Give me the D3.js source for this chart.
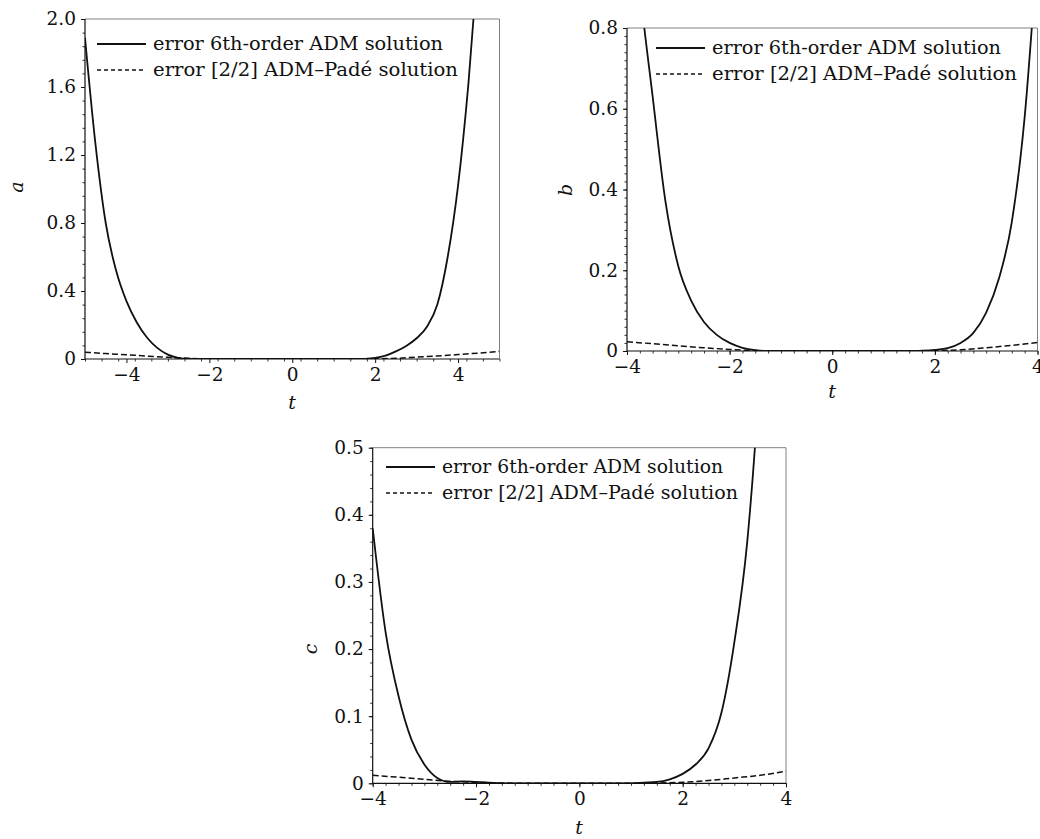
<!DOCTYPE html>
<html>
<head>
<meta charset="utf-8">
<script src="https://cdn.jsdelivr.net/npm/d3@7"></script>
<style>
  body { margin: 0; background: #fff; }
  svg text { font-family: "DejaVu Serif", "Liberation Serif", serif; fill: #111; }
</style>
</head>
<body>
<svg id="fig" width="1040" height="839"></svg>
<script>
// panel a : error of a(t)
var tA_adm = [-5, -4.75, -4.5, -4.25, -4, -3.75, -3.5, -3.25, -3, -2.75, -2.5, -2, -1, 0, 1, 1.5, 1.75, 2, 2.25, 2.5, 2.75, 3, 3.25, 3.5, 3.75, 4, 4.25, 4.5];
var errA_adm = [1.89, 1.27, 0.80, 0.52, 0.34, 0.215, 0.125, 0.064, 0.026, 0.007, 0.001, 0, 0, 0, 0, 0, 0.001, 0.006, 0.02, 0.045, 0.077, 0.122, 0.19, 0.32, 0.60, 1.02, 1.62, 2.4];
var tA_pade = [-5, -4.5, -4, -3.5, -3, -2.5, -2, -1, 0, 1, 2, 2.5, 3, 3.5, 4, 4.5, 5];
var errA_pade = [0.04, 0.032, 0.025, 0.017, 0.01, 0.004, 0.001, 0, 0, 0, 0.001, 0.004, 0.011, 0.018, 0.026, 0.035, 0.045];
var yTicksA = [0, 0.4, 0.8, 1.2, 1.6, 2.0];

// panel b : error of b(t)
var tB_adm = [-4, -3.75, -3.5, -3.25, -3, -2.75, -2.5, -2.25, -2, -1.75, -1.5, -1.25, 0, 1.25, 1.5, 1.75, 2, 2.25, 2.5, 2.75, 3, 3.25, 3.5, 3.75, 4];
var errB_adm = [1.25, 0.90, 0.63, 0.37, 0.21, 0.125, 0.072, 0.04, 0.02, 0.008, 0.002, 0, 0, 0, 0, 0.001, 0.003, 0.007, 0.02, 0.045, 0.095, 0.18, 0.32, 0.58, 1.0];
var tB_pade = [-4, -3.5, -3, -2.5, -2, -1.5, -1, 0, 1, 1.5, 2, 2.5, 3, 3.5, 4];
var errB_pade = [0.023, 0.018, 0.013, 0.008, 0.004, 0.001, 0, 0, 0, 0, 0.001, 0.003, 0.008, 0.014, 0.021];
var yTicksB = [0, 0.2, 0.4, 0.6, 0.8];

// panel c : error of c(t)
var tC_adm = [-4, -3.75, -3.5, -3.25, -3, -2.75, -2.5, -2.25, -2, -1.75, -1.5, 0, 1, 1.25, 1.5, 1.75, 2, 2.25, 2.5, 2.75, 3, 3.25, 3.5, 3.75];
var errC_adm = [0.38, 0.225, 0.13, 0.065, 0.028, 0.008, 0.002, 0.003, 0.002, 0.001, 0, 0, 0, 0.001, 0.002, 0.006, 0.014, 0.028, 0.052, 0.105, 0.21, 0.36, 0.62, 1.0];
var tC_pade = [-4, -3.5, -3, -2.5, -2, -1.5, -1, 0, 1, 1.5, 2, 2.5, 3, 3.5, 4];
var errC_pade = [0.012, 0.009, 0.006, 0.003, 0.0015, 0.0005, 0, 0, 0, 0.0005, 0.0015, 0.004, 0.008, 0.012, 0.018];
var yTicksC = [0, 0.1, 0.2, 0.3, 0.4, 0.5];

var xTicks = [-4, -2, 0, 2, 4];
var legendLabels = ["error 6th-order ADM solution", "error [2/2] ADM\u2013Pad\u00e9 solution"];

var svg = d3.select('#fig');

function fmtY(d) { return d === 0 ? "0" : d.toFixed(1); }
function fmtX(d) { return d < 0 ? "\u2212" + Math.abs(d) : String(d); }

function styleTicks(s) {
    s.select('.domain').remove();
    s.selectAll('line').attr('stroke', '#111');
    s.selectAll('text')
        .attr('font-size', 18.5)
        .attr('font-family', '"DejaVu Serif", serif')
        .attr('fill', '#111');
}

function drawPanel(p) {
    var x = d3.scaleLinear().domain(p.xDomain).range([p.left, p.right]);
    var y = d3.scaleLinear().domain(p.yDomain).range([p.bottom, p.top]);

    svg.append('clipPath').attr('id', 'clip-' + p.name)
        .append('rect')
        .attr('x', p.left).attr('y', p.top)
        .attr('width', p.right - p.left).attr('height', p.bottom - p.top);

    var g = svg.append('g');

    // minor ticks
    var xMinor = d3.range(p.xDomain[0], p.xDomain[1] + 1e-9, p.xMinor);
    g.append('g').attr('transform', 'translate(0,' + p.bottom + ')')
        .call(d3.axisBottom(x).tickValues(xMinor).tickSize(2.5).tickFormat(''))
        .call(function(s) { s.select('.domain').remove(); s.selectAll('line').attr('stroke', '#333'); });
    var yMinor = d3.range(p.yDomain[0], p.yDomain[1] + 1e-9, p.yMinor);
    g.append('g').attr('transform', 'translate(' + p.left + ',0)')
        .call(d3.axisLeft(y).tickValues(yMinor).tickSize(2.5).tickFormat(''))
        .call(function(s) { s.select('.domain').remove(); s.selectAll('line').attr('stroke', '#333'); });

    // major ticks
    g.append('g').attr('transform', 'translate(0,' + p.bottom + ')')
        .call(d3.axisBottom(x).tickValues(p.xTicks).tickSize(4).tickPadding(5).tickFormat(fmtX))
        .call(styleTicks);
    g.append('g').attr('transform', 'translate(' + p.left + ',0)')
        .call(d3.axisLeft(y).tickValues(p.yTicks).tickSize(4).tickPadding(5).tickFormat(fmtY))
        .call(styleTicks);

    // frame: grey top/right, dark axes
    g.append('path')
        .attr('d', 'M' + p.left + ',' + p.top + 'H' + p.right + 'V' + p.bottom)
        .attr('fill', 'none').attr('stroke', '#808080').attr('stroke-width', 1);
    g.append('path')
        .attr('d', 'M' + p.left + ',' + p.top + 'V' + p.bottom + 'H' + p.right)
        .attr('fill', 'none').attr('stroke', '#111').attr('stroke-width', 1.2);

    // curves
    var line = d3.line()
        .x(function(d) { return x(d[0]); })
        .y(function(d) { return y(d[1]); })
        .curve(d3.curveMonotoneX);
    var cg = g.append('g').attr('clip-path', 'url(#clip-' + p.name + ')');
    cg.append('path')
        .attr('d', line(d3.zip(p.tPade, p.errPade)))
        .attr('fill', 'none').attr('stroke', '#111').attr('stroke-width', 1.5)
        .attr('stroke-dasharray', '6,3');
    cg.append('path')
        .attr('d', line(d3.zip(p.tAdm, p.errAdm)))
        .attr('fill', 'none').attr('stroke', '#111').attr('stroke-width', 1.8);

    // legend
    var lg = g.append('g');
    lg.append('line').attr('x1', p.legX).attr('x2', p.legX + 49)
        .attr('y1', p.legY).attr('y2', p.legY)
        .attr('stroke', '#111').attr('stroke-width', 2);
    lg.append('line').attr('x1', p.legX).attr('x2', p.legX + 49)
        .attr('y1', p.legY + 26).attr('y2', p.legY + 26)
        .attr('stroke', '#111').attr('stroke-width', 1.4).attr('stroke-dasharray', '4,3');
    legendLabels.forEach(function(lab, i) {
        lg.append('text')
            .attr('x', p.legX + 56).attr('y', p.legY + 26 * i + 6)
            .attr('font-size', 18.5)
            .attr('textLength', p.legW[i]).attr('lengthAdjust', 'spacingAndGlyphs')
            .text(lab);
    });

    // axis labels
    g.append('text')
        .attr('transform', 'translate(' + p.yLab[0] + ',' + p.yLab[1] + ') rotate(-90)')
        .attr('text-anchor', 'middle').attr('font-style', 'italic').attr('font-size', 19)
        .text(p.name);
    g.append('text')
        .attr('x', p.xLab[0]).attr('y', p.xLab[1])
        .attr('text-anchor', 'middle').attr('font-style', 'italic').attr('font-size', 19)
        .text('t');
}

drawPanel({
    name: 'a', left: 85, right: 499.5, top: 19, bottom: 359,
    xDomain: [-5, 5], yDomain: [0, 2], xTicks: xTicks, yTicks: yTicksA, xMinor: 0.4, yMinor: 0.08,
    tAdm: tA_adm, errAdm: errA_adm, tPade: tA_pade, errPade: errA_pade,
    legX: 97, legY: 44, legW: [290, 305], yLab: [23, 187], xLab: [292, 409]
});
drawPanel({
    name: 'b', left: 627, right: 1037.5, top: 28, bottom: 351,
    xDomain: [-4, 4], yDomain: [0, 0.8], xTicks: xTicks, yTicks: yTicksB, xMinor: 0.25, yMinor: 0.02,
    tAdm: tB_adm, errAdm: errB_adm, tPade: tB_pade, errPade: errB_pade,
    legX: 656, legY: 48, legW: [289, 305], yLab: [572, 190], xLab: [832, 398]
});
drawPanel({
    name: 'c', left: 372.7, right: 786, top: 447.7, bottom: 783.3,
    xDomain: [-4, 4], yDomain: [0, 0.5], xTicks: xTicks, yTicks: yTicksC, xMinor: 0.25, yMinor: 0.02,
    tAdm: tC_adm, errAdm: errC_adm, tPade: tC_pade, errPade: errC_pade,
    legX: 386, legY: 467, legW: [281, 296], yLab: [317, 649], xLab: [579, 834]
});
</script>
</body>
</html>
